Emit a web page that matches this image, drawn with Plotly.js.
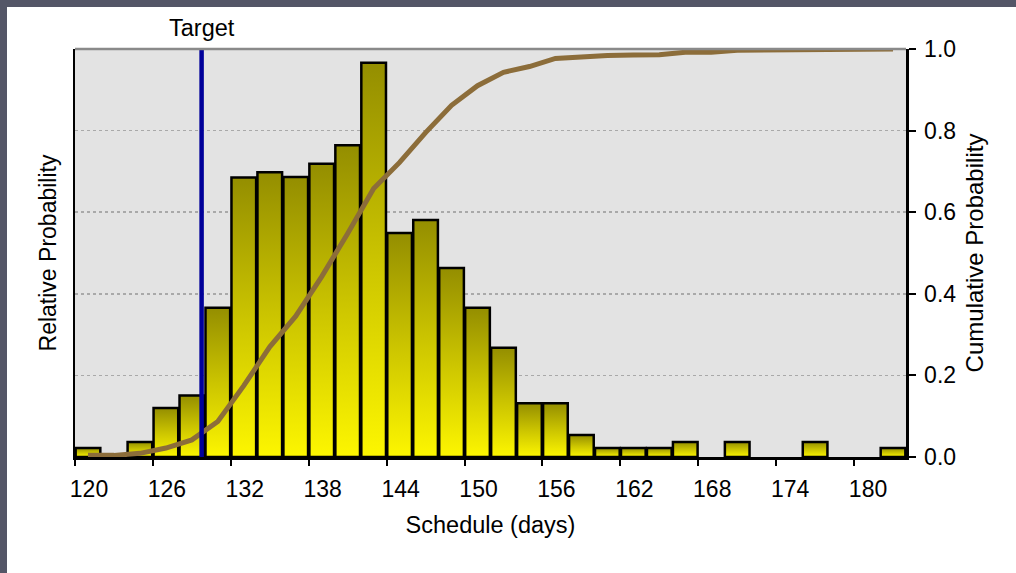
<!DOCTYPE html>
<html>
<head>
<meta charset="utf-8">
<script src="https://cdn.plot.ly/plotly-3.0.1.min.js"></script>
<style>
html, body { margin:0; padding:0; width:1016px; height:573px; overflow:hidden; background:#545667; }
#chart { position:absolute; left:7px; top:7px; width:1009px; height:566px; background:#ffffff; }
</style>
</head>
<body>
<div id="chart"></div>
<script>
// Bin centres (days) — each bin is 2 days wide
const binCenters = [121,123,125,127,129,131,133,135,137,139,141,143,145,147,149,151,
                    153,155,157,159,161,163,165,167,169,171,173,175,177,179,181,183];
// Relative probability (bar heights; null = empty bin)
const relProb = [0.022,null,0.037,0.12,0.151,0.366,0.685,0.698,0.686,0.719,0.764,0.966,
                 0.549,0.581,0.463,0.366,0.268,0.132,0.132,0.054,0.022,0.022,0.022,0.037,
                 null,0.037,null,null,0.037,null,null,0.022];
// Cumulative probability (line)
const cumProb = [0.004,0.004,0.009,0.022,0.042,0.087,0.175,0.27,0.345,0.442,0.548,0.658,
                 0.722,0.795,0.862,0.91,0.943,0.957,0.977,0.982,0.984,0.985,0.986,0.992,
                 0.992,0.997,0.997,0.997,1.0,1.0,1.0,1.0];
const targetDays = 129.75;
const targetY = [0, 1];
const xTicks = [120,126,132,138,144,150,156,162,168,174,180];
const yTicks = [0,0.2,0.4,0.6,0.8,1.0];
const yTickText = ['0.0','0.2','0.4','0.6','0.8','1.0'];

const FONT = 'Arial, "Liberation Sans", sans-serif';

const traces = [
  {
    type:'bar', x:binCenters, y:relProb, width:1.9, yaxis:'y',
    marker:{color:'#c8c000', line:{color:'#000000', width:2.5}},
    hoverinfo:'skip', showlegend:false
  },
  {
    type:'scatter', mode:'lines', x:binCenters, y:cumProb, yaxis:'y2',
    line:{color:'#8c6d3a', width:5}, hoverinfo:'skip', showlegend:false
  },
  {
    type:'scatter', mode:'lines', x:[targetDays,targetDays], y:targetY, yaxis:'y2',
    line:{color:'#00009a', width:4.5}, hoverinfo:'skip', showlegend:false, cliponaxis:false
  }
];

const layout = {
  width:1009, height:566,
  margin:{l:68, r:110, t:42, b:116},
  paper_bgcolor:'#ffffff', plot_bgcolor:'#e3e3e3',
  font:{family:FONT, size:23, color:'#000000'},
  bargap:0.04,
  showlegend:false,
  xaxis:{
    range:[120,184], tickvals:xTicks, ticktext:xTicks.map(String),
    showline:true, linecolor:'#000000', linewidth:2.5,
    ticks:'outside', ticklen:6, tickwidth:2, tickcolor:'#000000',
    showgrid:false, zeroline:false,
    tickfont:{size:23}, ticklabelstandoff:4, ticklabelshift:14,
    title:{text:'Schedule (days)', font:{size:23.5}, standoff:16}
  },
  yaxis:{
    range:[0,1], showline:true, linecolor:'#000000', linewidth:2.5,
    showticklabels:false, ticks:'', showgrid:false, zeroline:false,
    title:{text:'Relative Probability', font:{size:23}, standoff:10}
  },
  yaxis2:{
    range:[0,1], overlaying:'y', side:'right', anchor:'x',
    tickvals:yTicks, ticktext:yTickText,
    showline:true, linecolor:'#000000', linewidth:2.5,
    ticks:'outside', ticklen:7, tickwidth:2, tickcolor:'#000000',
    showgrid:true, gridcolor:'#a9a9a9', gridwidth:1.5, griddash:'dot',
    zeroline:false, tickfont:{size:23}, ticklabelstandoff:4,
    title:{text:'Cumulative Probability', font:{size:24}, standoff:11}
  },
  shapes:[
    {type:'line', xref:'paper', yref:'paper', x0:0, x1:1, y0:1, y1:1,
     line:{color:'#8a8a8a', width:2.5}, layer:'above'}
  ],
  annotations:[
    {text:'Target', x:targetDays, xref:'x', y:1, yref:'paper', yanchor:'bottom',
     showarrow:false, yshift:6, font:{size:23.5, color:'#000000'}}
  ]
};

Plotly.newPlot('chart', traces, layout, {displayModeBar:false, staticPlot:true}).then(function(gd){
  const svg = gd.querySelector('.main-svg');
  const ns = 'http://www.w3.org/2000/svg';
  let defs = svg.querySelector('defs');
  const grad = document.createElementNS(ns, 'linearGradient');
  grad.setAttribute('id', 'barGrad');
  grad.setAttribute('x1','0'); grad.setAttribute('y1','0');
  grad.setAttribute('x2','0'); grad.setAttribute('y2','1');
  [['0','#948e00'],['0.5','#cbc400'],['1','#fdf600']].forEach(function(s){
    const st = document.createElementNS(ns,'stop');
    st.setAttribute('offset', s[0]); st.setAttribute('stop-color', s[1]);
    grad.appendChild(st);
  });
  defs.appendChild(grad);
  gd.querySelectorAll('.barlayer .point path').forEach(function(p){
    p.style.fill = 'url(#barGrad)';
  });
});
</script>
</body>
</html>
